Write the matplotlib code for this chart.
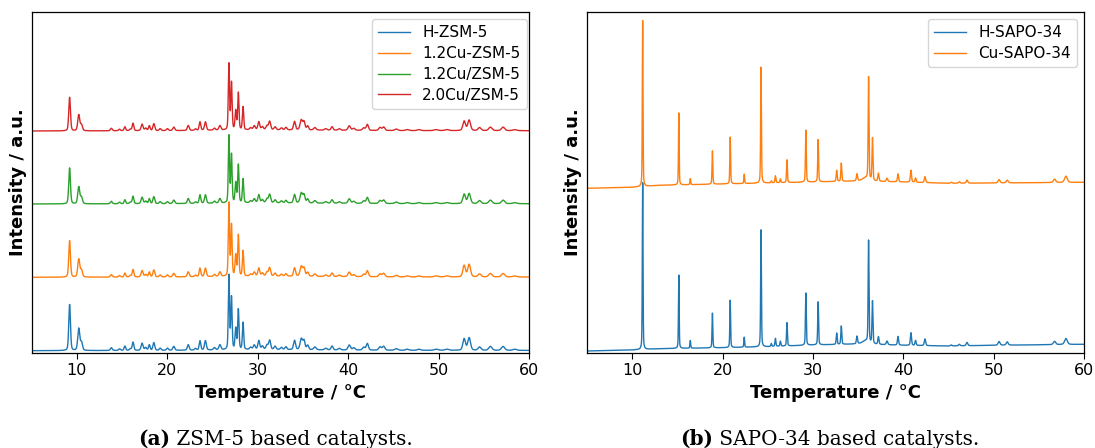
import numpy as np
import matplotlib
matplotlib.use("Agg")
import matplotlib.pyplot as plt

# ---- ZSM-5 patterns: peak positions (deg), widths, heights per sample ----
zsm_pos = [9.19, 10.2, 10.5, 13.8, 14.7, 15.3, 15.9, 16.2, 17.2, 17.6,
           18.0, 18.5, 19.2, 20.0, 20.7, 22.3, 23.1, 23.6, 24.2, 25.2,
           25.8, 26.8, 27.08, 27.55, 27.84, 28.36, 29.2, 29.6, 30.1, 30.5,
           31.0, 31.3, 31.9, 32.6, 33.1, 34.05, 34.8, 35.1, 35.5, 36.3,
           37.5, 38.2, 39.0, 40.1, 40.6, 41.7, 42.1, 43.5, 43.9, 45.3,
           46.5, 47.8, 49.7, 50.9, 52.8, 53.35, 54.5, 55.7, 57.1, 58.4]
zsm_width = [0.22, 0.26, 0.26, 0.24, 0.24, 0.21, 0.24, 0.21, 0.26, 0.24,
             0.21, 0.24, 0.24, 0.26, 0.26, 0.24, 0.24, 0.21, 0.24, 0.26,
             0.26, 0.16, 0.17, 0.18, 0.17, 0.17, 0.26, 0.26, 0.24, 0.26,
             0.26, 0.26, 0.26, 0.26, 0.26, 0.26, 0.32, 0.26, 0.26, 0.32,
             0.32, 0.26, 0.32, 0.32, 0.32, 0.32, 0.28, 0.32, 0.32, 0.4,
             0.4, 0.4, 0.5, 0.5, 0.34, 0.36, 0.38, 0.42, 0.42, 0.5]
h_zsm = [46, 22, 8, 2.8, 1.6, 4.4, 1.6, 8.3, 7.2, 2.8,
         5.5, 7.7, 2.2, 2.2, 3.9, 5.5, 1.6, 9.3, 9.3, 2.2,
         5, 74, 52, 21, 40, 27, 2.2, 4.4, 8.8, 3.3,
         4.4, 9.3, 3.3, 2.2, 2.8, 9.3, 11, 8.8, 4.4, 2.8,
         1.6, 3.9, 1.6, 5, 2.2, 2.8, 6.6, 3.3, 3.9, 1.6,
         1.1, 1.1, 1.1, 1.1, 11.5, 12.5, 3.3, 3.9, 3.9, 1.1]
cu_zsm = [36.5, 18, 7, 2.5, 1.5, 4, 1.5, 7.5, 6.5, 2.5,
          5, 7, 2, 2, 3.5, 5, 1.5, 8.5, 8.5, 2,
          4.5, 73, 51, 21, 41, 25.5, 2, 4, 8, 3,
          4, 8.5, 3, 2, 2.5, 8.5, 10, 8, 4, 2.5,
          1.5, 3.5, 1.5, 4.5, 2, 2.5, 6, 3, 3.5, 1.5,
          1, 1, 1, 1, 11.5, 12.5, 3, 3.5, 3.5, 1]
cu12_zsm = [36, 17, 6.5, 2.5, 1.5, 4, 1.5, 7.5, 6.5, 2.5,
            5, 7, 2, 2, 3.5, 5, 1.5, 8.5, 8.5, 2,
            4.5, 67, 48, 20, 38, 24, 2, 4, 8, 3,
            4, 8.5, 3, 2, 2.5, 8.5, 10, 8, 4, 2.5,
            1.5, 3.5, 1.5, 4.5, 2, 2.5, 6, 3, 3.5, 1.5,
            1, 1, 1, 1, 9.5, 10, 3, 3.5, 3.5, 1]
cu20_zsm = [33.5, 16, 6, 2.5, 1.5, 4, 1.5, 7.5, 6.5, 2.5,
            5, 7, 2, 2, 3.5, 5, 1.5, 8.5, 8.5, 2,
            4.5, 66, 47, 19, 37, 23, 2, 4, 8, 3,
            4, 8.5, 3, 2, 2.5, 8.5, 10, 8, 4, 2.5,
            1.5, 3.5, 1.5, 4.5, 2, 2.5, 6, 3, 3.5, 1.5,
            1, 1, 1, 1, 9.5, 10.5, 3, 3.5, 3.5, 1]
zsm_bg_x = [5, 20, 26, 30, 37, 45, 60]
zsm_bg_y = [0, 0.3, 0.8, 1.2, 0.8, 0.4, 0.3]
zsm_labels = ["H-ZSM-5", "1.2Cu-ZSM-5", "1.2Cu/ZSM-5", "2.0Cu/ZSM-5"]
zsm_offsets = [2, 75.4, 148.7, 221.7]

# ---- SAPO-34 patterns ----
sapo_pos = [11.16, 15.16, 16.43, 18.88, 20.85, 22.4, 24.26, 25.4, 25.85, 26.4,
            27.13, 29.22, 30.58, 32.63, 33.14, 34.88, 35.8, 36.16, 36.59, 37.25,
            38.2, 39.42, 40.85, 41.36, 42.4, 45.3, 46.2, 47.05, 50.6, 51.5,
            56.74, 58.0]
sapo_width = [0.09, 0.09, 0.1, 0.1, 0.1, 0.1, 0.1, 0.12, 0.12, 0.12,
              0.11, 0.11, 0.11, 0.12, 0.12, 0.15, 0.8, 0.11, 0.12, 0.15,
              0.2, 0.15, 0.15, 0.15, 0.18, 0.2, 0.2, 0.2, 0.25, 0.25,
              0.3, 0.35]
h_sapo = [166.7, 73.3, 7.7, 34.7, 47.3, 10, 117, 3, 8, 5,
          23.3, 52.3, 43, 11.3, 18.3, 7.7, 3, 102.3, 42.7, 7.7,
          3.7, 8.7, 12.7, 5, 6.7, 1, 1.5, 3.3, 3.7, 3.3,
          3.3, 6]
cu_sapo = [166, 72, 6, 33.3, 46.7, 9.3, 116, 2, 7, 3.7,
           22.7, 52, 42.3, 11, 18.3, 7, 3, 102.7, 42.7, 8,
           3.3, 8, 12, 4.3, 6, 1, 1.5, 3, 3.3, 2.7,
           3.3, 6.3]
sapo_bg_x = [5, 10, 13, 20, 25, 30, 35, 40, 45, 50, 60]
h_sapo_bg = [1.7, 2.7, 4.0, 5.0, 6.0, 7.7, 8.7, 7.4, 6.7, 7.4, 8.4]
cu_sapo_bg = [1.7, 2.7, 4.7, 6.0, 7.0, 8.0, 9.0, 8.0, 6.7, 7.0, 7.7]
sapo_labels = ["H-SAPO-34", "Cu-SAPO-34"]
sapo_offsets = [0, 162.7]

colors = ["#1f77b4", "#ff7f0e", "#2ca02c", "#d62728"]


def pattern(x, pos, hts, wids, eta):
    y = np.zeros_like(x)
    for p, h, w in zip(pos, hts, wids):
        g = np.exp(-4 * np.log(2) * ((x - p) / w) ** 2)
        lo = 1.0 / (1 + 4 * ((x - p) / w) ** 2)
        y += h * (eta * lo + (1 - eta) * g)
    return y


x = np.arange(5, 60.0001, 0.005)

W, H = 1095, 448
fig = plt.figure(figsize=(W / 100, H / 100), dpi=100)
ax1 = fig.add_axes([31.7 / W, (H - 352.7) / H, 497.6 / W, 341 / H])
ax2 = fig.add_axes([587 / W, (H - 352.7) / H, 497 / W, 341 / H])

zsm_sets = [h_zsm, cu_zsm, cu12_zsm, cu20_zsm]
for hts, off, lab, c in zip(zsm_sets, zsm_offsets, zsm_labels, colors):
    y = pattern(x, zsm_pos, hts, zsm_width, 0.3) + np.interp(x, zsm_bg_x, zsm_bg_y) + off
    ax1.plot(x, y, color=c, lw=1.0, label=lab)

sapo_sets = [h_sapo, cu_sapo]
sapo_bgs = [h_sapo_bg, cu_sapo_bg]
for hts, bg, off, lab, c in zip(sapo_sets, sapo_bgs, sapo_offsets, sapo_labels, colors):
    y = pattern(x, sapo_pos, hts, sapo_width, 0.4) + np.interp(x, sapo_bg_x, bg) + off
    ax2.plot(x, y, color=c, lw=1.0, label=lab)

for ax in (ax1, ax2):
    ax.set_xlim(5, 60)
    ax.set_ylim(0, 341)
    ax.set_yticks([])
    ax.set_xticks([10, 20, 30, 40, 50, 60])
    ax.tick_params(axis="x", labelsize=11.5, length=4)
    ax.set_xlabel("Temperature / °C", fontsize=13, fontweight="bold")
    ax.set_ylabel("Intensity / a.u.", fontsize=13, fontweight="bold", labelpad=3.5)
    for s in ax.spines.values():
        s.set_linewidth(0.9)

ax1.legend(loc="upper right", bbox_to_anchor=(0.9948, 0.9777), borderaxespad=0,
           fontsize=11, labelspacing=0.38, handlelength=2.1)
ax2.legend(loc="upper right", bbox_to_anchor=(0.9859, 0.9777), borderaxespad=0,
           fontsize=11, labelspacing=0.38, handlelength=2.1)

# captions
for xl, tag, rest in [(138.3, "(a)", " ZSM-5 based catalysts."),
                      (680, "(b)", " SAPO-34 based catalysts.")]:
    t = fig.text(xl / W, (H - 445) / H, tag, fontsize=14.4, fontweight="bold",
                 family="DejaVu Serif", va="baseline", ha="left")
    ax1.annotate(rest, xy=(1, 0), xycoords=t, va="bottom", ha="left",
                 fontsize=14.4, family="DejaVu Serif", annotation_clip=False)

fig.savefig("out.png", dpi=100)
